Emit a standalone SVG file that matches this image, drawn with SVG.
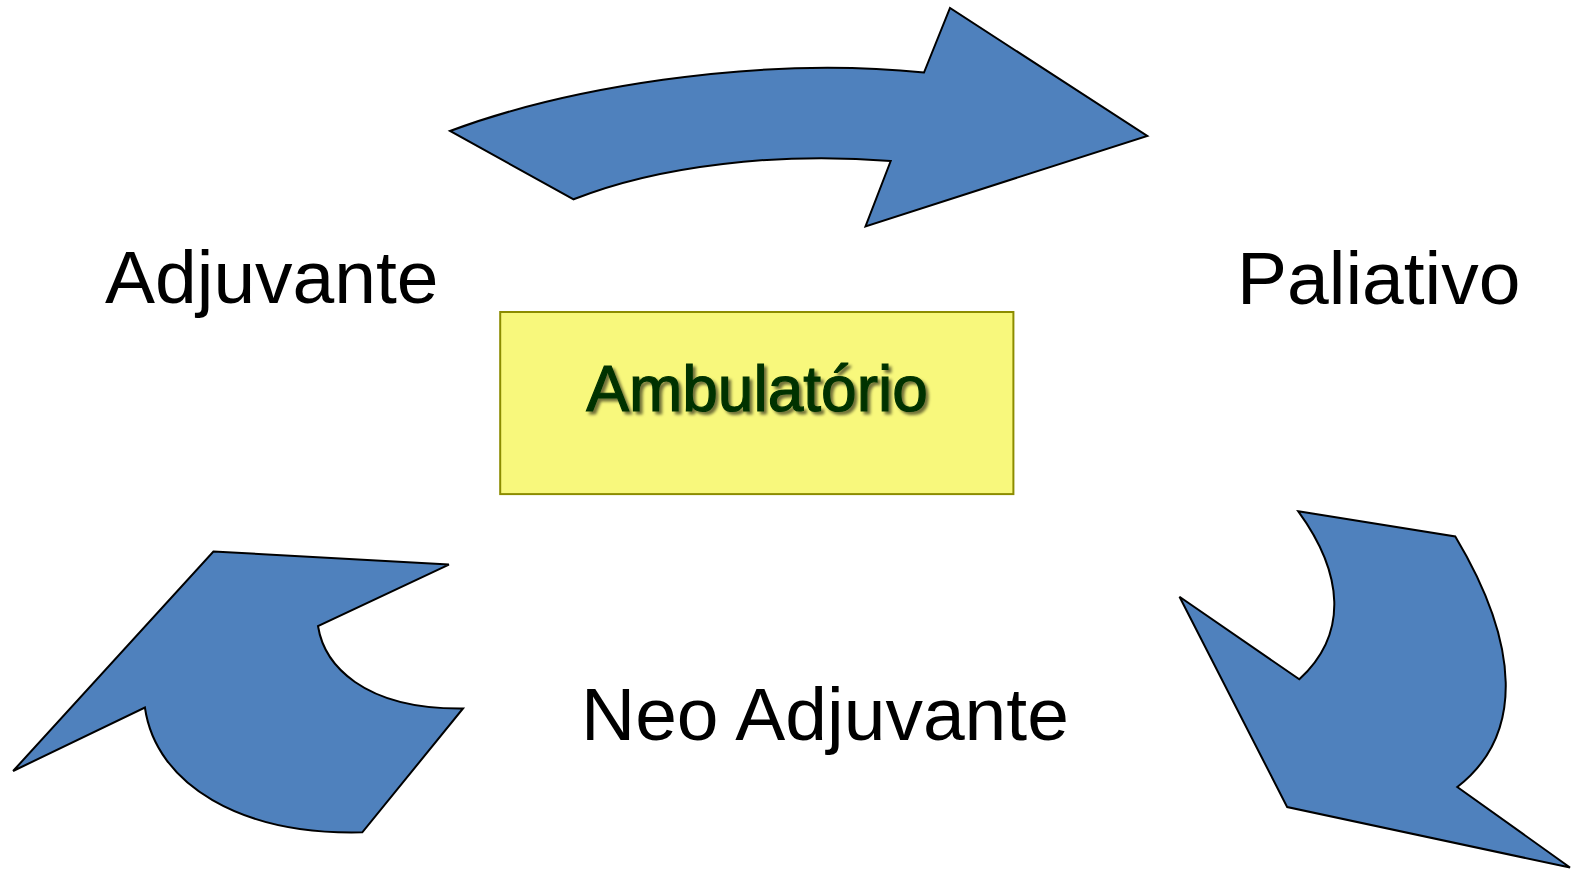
<svg xmlns="http://www.w3.org/2000/svg" width="1578" height="869" viewBox="0 0 1578 869">
  <style>
    .arrow { fill: #4f81bd; stroke: #000000; stroke-width: 2; stroke-linejoin: miter; }
    .label { font-family: "Liberation Sans", Arial, sans-serif; font-size: 75px; fill: #000000; }
    .center { font-family: "Liberation Sans", Arial, sans-serif; font-size: 64px; fill: #003300; stroke: #003300; stroke-width: 1.2; }
  </style>
  <defs>
    <filter id="shadow" x="-10%" y="-20%" width="120%" height="150%">
      <feDropShadow dx="3" dy="3" stdDeviation="1.5" flood-color="#000000" flood-opacity="0.55"/>
    </filter>
  </defs>
  <rect width="1578" height="869" fill="#ffffff"/>
  <g id="connectors">
    <path class="arrow" d="M450,131 C560,90 750,55 924,72.5 L950,8 L1147.3,135.9 L865.5,226.4 L890.7,161 C780,152 660,165 573.6,199.3 Z"/>
    <path class="arrow" d="M1298.3,511.3 L1455.3,536.4 C1519.7,644.1 1524.7,734.7 1457.3,787 L1570,867.5 L1287.2,807.1 L1179.5,596.8 L1299.3,679.3 C1348.6,634 1343.6,573.6 1298.3,511.3 Z"/>
    <path class="arrow" d="M213.4,551.5 L448.9,564.6 L318,626 C324,664.2 362.3,709.5 463,708.5 L362.3,832.3 C241.5,835.3 156,785 144.9,707.5 L13.1,771 Z"/>
  </g>
  <g id="node-ambulatorio">
    <rect x="500.2" y="312" width="513.2" height="182.1" fill="#f8f87c" stroke="#8c8c00" stroke-width="2"/>
    <text class="center" x="757" y="411" text-anchor="middle" filter="url(#shadow)">Ambulatório</text>
  </g>
  <g id="node-adjuvante">
    <text class="label" x="105" y="303">Adjuvante</text>
  </g>
  <g id="node-paliativo">
    <text class="label" x="1237" y="304">Paliativo</text>
  </g>
  <g id="node-neo-adjuvante">
    <text class="label" x="581" y="740">Neo Adjuvante</text>
  </g>
</svg>
